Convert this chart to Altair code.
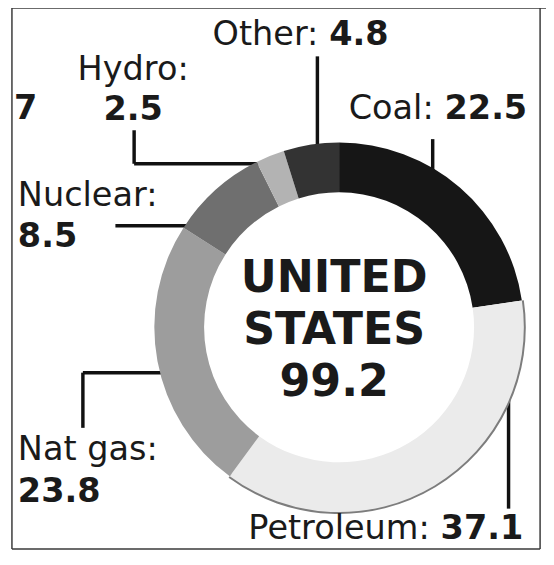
import altair as alt
import pandas as pd

# ---------------- data ----------------
categories = ["Coal", "Petroleum", "Nat gas", "Nuclear", "Hydro", "Other"]
values = [22.5, 37.1, 23.8, 8.5, 2.5, 4.8]
shades = ["#161616", "#ebebeb", "#9d9d9d", "#6f6f6f", "#b3b3b3", "#333333"]
country_lines = ["UNITED", "STATES"]
total = round(sum(values), 1)

# ---------------- layout (page pixels) ----------------
OFF = 8
W, H = 546, 549
CX, CY = 344 - OFF, 328 - OFF
R_OUT, R_IN = 188, 137
INK = "#1a1a1a"
FONT = "DejaVu Sans"
LABEL_SIZE = 34
CENTER_SIZE = 45

# label anchor positions: (name part x, y, align), (number part x, y, align)
label_layout = {
    "Other":     ((323, 41, "right"), (334, 41, "left")),
    "Hydro":     ((135, 77, "center"), (135, 118, "center")),
    "Coal":      ((440, 117, "right"), (451, 117, "left")),
    "Nuclear":   ((18, 205, "left"), (18, 246, "left")),
    "Nat gas":   ((18, 463, "left"), (18, 505, "left")),
    "Petroleum": ((436, 543, "right"), (447, 543, "left")),
}
leader_segments = [
    (322, 53, 322, 145),
    (136, 128, 136, 162), (136, 162, 264, 162),
    (439, 137, 439, 169),
    (117, 225, 190, 225),
    (165, 374, 84, 374), (84, 374, 84, 430),
    (516, 401, 516, 512),
]
frame_segments = [
    (12, 4, 12, 553), (12, 4, 554, 4), (548, 4, 548, 553), (12, 553, 548, 553),
]

# ---------------- tables ----------------
slices = pd.DataFrame({
    "category": categories,
    "value": values,
    "order": list(range(len(categories))),
})

rows = []
for cat, val in zip(categories, values):
    (nx, ny, na), (vx, vy, va) = label_layout[cat]
    rows.append({"text": f"{cat}:", "x": nx - OFF, "y": ny - OFF, "align": na, "weight": "normal"})
    rows.append({"text": f"{val}", "x": vx - OFF, "y": vy - OFF, "align": va, "weight": "bold"})
rows.append({"text": "7", "x": 14 - OFF, "y": 117 - OFF, "align": "left", "weight": "bold"})
labels = pd.DataFrame(rows)

center = pd.DataFrame({
    "text": country_lines + [f"{total}"],
    "x": [339 - OFF] * 3,
    "y": [292 - OFF, 345 - OFF, 398 - OFF],
})

def segs(lst):
    return pd.DataFrame([{"x": a - OFF, "y": b - OFF, "x2": c - OFF, "y2": d - OFF} for a, b, c, d in lst])

leaders = segs(leader_segments)
frame = segs(frame_segments)

px = lambda f: alt.X(f"{f}:Q", scale=None, axis=None)
py = lambda f: alt.Y(f"{f}:Q", scale=None, axis=None)

# ---------------- layers ----------------
frame_layer = alt.Chart(frame).mark_rule(color="#3a3a3a", strokeWidth=1.5).encode(
    x=px("x"), y=py("y"), x2="x2:Q", y2="y2:Q")

leader_layer = alt.Chart(leaders).mark_rule(color="#111111", strokeWidth=3.5).encode(
    x=px("x"), y=py("y"), x2="x2:Q", y2="y2:Q")

theta = alt.Theta("value:Q", stack=True)
rim = alt.Chart(slices).mark_arc(outerRadius=R_OUT + 1.5, innerRadius=R_OUT - 4).encode(
    theta=theta,
    order=alt.Order("order:Q"),
    color=alt.value("#7d7d7d"),
    opacity=alt.condition(alt.datum.category == "Petroleum", alt.value(1), alt.value(0)),
    x=alt.value(CX), y=alt.value(CY),
)
ring = alt.Chart(slices).mark_arc(outerRadius=R_OUT - 0.5, innerRadius=R_IN).encode(
    theta=theta,
    order=alt.Order("order:Q"),
    color=alt.Color("category:N", scale=alt.Scale(domain=categories, range=shades), legend=None),
    x=alt.value(CX), y=alt.value(CY),
)

text_layers = []
for align in ["left", "center", "right"]:
    for weight in ["normal", "bold"]:
        sub = labels[(labels["align"] == align) & (labels["weight"] == weight)]
        if len(sub) == 0:
            continue
        text_layers.append(
            alt.Chart(sub).mark_text(
                align=align, baseline="alphabetic", font=FONT, fontSize=LABEL_SIZE,
                fontWeight=weight, color=INK,
            ).encode(x=px("x"), y=py("y"), text="text:N")
        )

center_layer = alt.Chart(center).mark_text(
    align="center", baseline="alphabetic", font=FONT, fontSize=CENTER_SIZE,
    fontWeight="bold", color=INK,
).encode(x=px("x"), y=py("y"), text="text:N")

chart = alt.layer(
    frame_layer, leader_layer, rim, ring, *text_layers, center_layer
).properties(
    width=W, height=H, padding=0, autosize="none", background="white"
).configure_view(stroke=None)

chart.save("out.html", embed_options={"renderer": "svg", "actions": False})
